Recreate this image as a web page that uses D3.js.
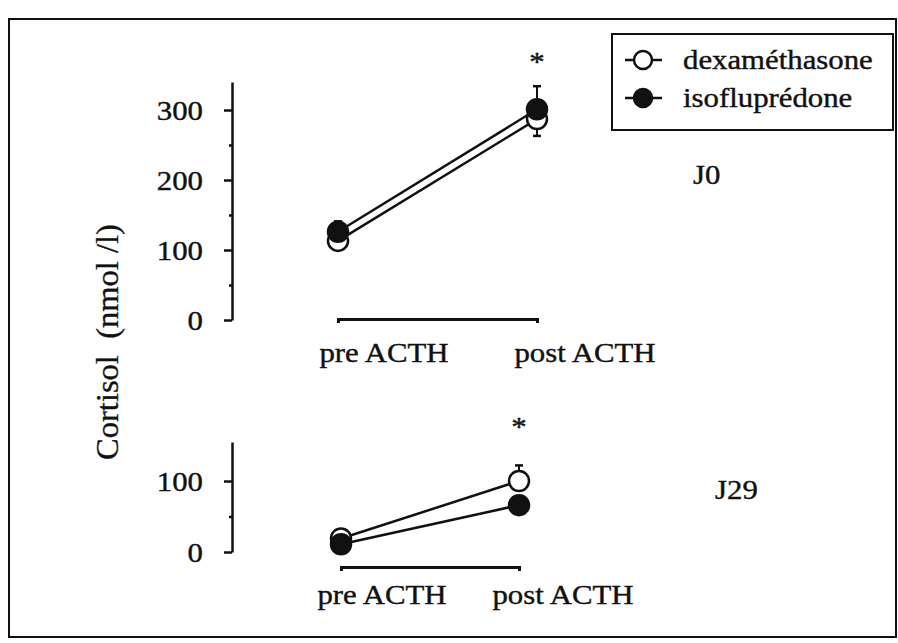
<!DOCTYPE html>
<html>
<head>
<meta charset="utf-8">
<script src="https://cdn.jsdelivr.net/npm/d3@7"></script>
<style>
  body { margin: 0; background: #fff; }
</style>
</head>
<body>
<div id="chart-area"></div>
<script>
// cortisol (nmol/l) before / after ACTH, two treatment groups, days J0 and J29
var phases = ["pre ACTH", "post ACTH"];
var seriesNames = ["dexaméthasone", "isofluprédone"];

var j0Dexa = [113, 287];
var j0DexaSem = [8, 24];
var j0Iso = [126, 301];
var j0IsoSem = [15, 33];

var j29Dexa = [19, 100];
var j29DexaSem = [4, 22];
var j29Iso = [11, 66];
var j29IsoSem = [3, 6];

var j0Ticks = [0, 100, 200, 300];
var j0Minor = [50, 150, 250];
var j29Ticks = [0, 100];
var j29Minor = [50];

var width = 898, height = 643;
var sx = 1.1; // the scanned type is a bit wide
var serif = "'Liberation Serif', 'Times New Roman', Times, serif";

var svg = d3.select('#chart-area')
  .append('svg')
  .attr('width', width)
  .attr('height', height);

// outer frame
svg.append('rect')
  .attr('x', 9).attr('y', 19)
  .attr('width', 887).attr('height', 618)
  .attr('fill', 'none')
  .attr('stroke', '#111')
  .attr('stroke-width', 2);

function label(g, str, x, y, anchor, size) {
  return g.append('text')
    .attr('transform', `translate(${x},${y}) scale(${sx},1)`)
    .attr('text-anchor', anchor || 'start')
    .attr('font-family', serif)
    .attr('font-size', (size || 28) + 'px')
    .attr('fill', '#111')
    .attr('stroke', '#111')
    .attr('stroke-width', 0.4)
    .text(str);
}

var panels = [
  {
    name: 'J0', dexa: j0Dexa, dexaSem: j0DexaSem, iso: j0Iso, isoSem: j0IsoSem,
    ticks: j0Ticks, minor: j0Minor, domain: [0, 340], yRange: [320, 82],
    xRange: [338, 537], xAxisY: 319, labelY: 362, labelShift: [46, 48],
    dir: [-1, 1], star: 71, tag: [693, 184]
  },
  {
    name: 'J29', dexa: j29Dexa, dexaSem: j29DexaSem, iso: j29Iso, isoSem: j29IsoSem,
    ticks: j29Ticks, minor: j29Minor, domain: [0, 155], yRange: [552, 442],
    xRange: [341, 519], xAxisY: 567, labelY: 604, labelShift: [41, 44],
    dir: [1, -1], star: 436, tag: [715, 499]
  }
];

var axisX = 232;

panels.forEach(p => {
  var g = svg.append('g');

  var x = d3.scalePoint().domain(phases).range(p.xRange);
  var y = d3.scaleLinear().domain(p.domain).range(p.yRange);

  // y axis
  g.append('g')
    .attr('transform', `translate(${axisX},0)`)
    .call(d3.axisLeft(y).tickValues(p.ticks).tickSize(8).tickSizeOuter(0).tickFormat(''));
  g.append('g')
    .attr('transform', `translate(${axisX},0)`)
    .call(d3.axisLeft(y).tickValues(p.minor).tickSize(3).tickFormat(''))
    .select('.domain').remove();
  g.selectAll('.domain, .tick line')
    .attr('stroke', '#111')
    .attr('stroke-width', 2.5);

  p.ticks.forEach(t => {
    label(g, t, 203, y(t) + 10, 'end');
  });

  // x axis: a bare line between the two time points
  g.append('g')
    .attr('transform', `translate(0,${p.xAxisY})`)
    .call(d3.axisBottom(x).tickSizeInner(0).tickSizeOuter(4).tickFormat(''))
    .selectAll('.domain')
    .attr('stroke', '#111')
    .attr('stroke-width', 3);

  phases.forEach((ph, i) => {
    label(g, ph, x(ph) + p.labelShift[i], p.labelY, 'middle');
  });

  var series = [
    { vals: p.dexa, sem: p.dexaSem, fill: '#fff', dir: p.dir[0] },
    { vals: p.iso, sem: p.isoSem, fill: '#111', dir: p.dir[1] }
  ];

  var line = d3.line()
    .x((d, i) => x(phases[i]))
    .y(d => y(d));

  series.forEach(s => {
    g.append('path')
      .datum(s.vals)
      .attr('d', line)
      .attr('fill', 'none')
      .attr('stroke', '#111')
      .attr('stroke-width', 2.5);
  });

  // error bars (one sided, away from the other group)
  series.forEach(s => {
    s.vals.forEach((v, i) => {
      var cx = x(phases[i]);
      var end = y(v + s.dir * s.sem[i]);
      g.append('line')
        .attr('x1', cx).attr('x2', cx)
        .attr('y1', y(v)).attr('y2', end)
        .attr('stroke', '#111').attr('stroke-width', 2);
      g.append('line')
        .attr('x1', cx - 4).attr('x2', cx + 4)
        .attr('y1', end).attr('y2', end)
        .attr('stroke', '#111').attr('stroke-width', 2.5);
    });
  });

  series.forEach(s => {
    g.selectAll(null)
      .data(s.vals)
      .enter()
      .append('circle')
      .attr('cx', (d, i) => x(phases[i]))
      .attr('cy', d => y(d))
      .attr('r', 10)
      .attr('fill', s.fill)
      .attr('stroke', '#111')
      .attr('stroke-width', 2.5);
  });

  label(g, '*', x(phases[1]), p.star, 'middle');
  label(g, p.name, p.tag[0], p.tag[1], 'start');
});

// y axis title
svg.append('text')
  .attr('transform', `translate(118,342) rotate(-90) scale(1.05,1)`)
  .attr('text-anchor', 'middle')
  .attr('font-family', serif)
  .attr('font-size', '31px')
  .attr('fill', '#111')
  .attr('stroke', '#111')
  .attr('stroke-width', 0.3)
  .style('white-space', 'pre')
  .text('Cortisol  (nmol /l)');

// legend
var legend = svg.append('g');
legend.append('rect')
  .attr('x', 612).attr('y', 34)
  .attr('width', 281).attr('height', 96)
  .attr('fill', '#fff')
  .attr('stroke', '#111')
  .attr('stroke-width', 2);

var legendY = [60, 98];
seriesNames.forEach((name, i) => {
  var ly = legendY[i];
  legend.append('line')
    .attr('x1', 625).attr('x2', 662)
    .attr('y1', ly).attr('y2', ly)
    .attr('stroke', '#111').attr('stroke-width', 2.5);
  legend.append('circle')
    .attr('cx', 643).attr('cy', ly).attr('r', 9)
    .attr('fill', i === 0 ? '#fff' : '#111')
    .attr('stroke', '#111').attr('stroke-width', 2.5);
  label(legend, name, 683, ly + 9, 'start');
});
</script>
</body>
</html>
